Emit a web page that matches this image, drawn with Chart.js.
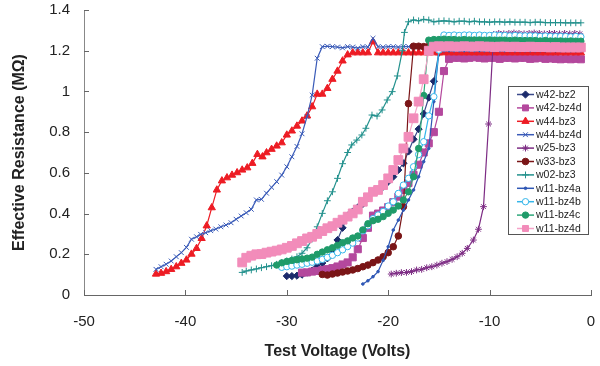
<!DOCTYPE html>
<html lang="en">
<head>
<meta charset="UTF-8">
<title>Effective Resistance vs Test Voltage</title>
<script src="https://cdn.jsdelivr.net/npm/chart.js"></script>
<style>
  html, body { margin: 0; padding: 0; background: #fff; }
  #wrap { width: 600px; height: 366px; }
</style>
</head>
<body>
<div id="wrap"><canvas id="chart" width="600" height="366"></canvas></div>
<script>
// axis ticks
const xTicks = [-50, -40, -30, -20, -10, 0];
const yTicks = [0, 0.2, 0.4, 0.6, 0.8, 1, 1.2, 1.4];

// series names (legend order)
const names = ['w42-bz2', 'w42-bz4d', 'w44-bz3', 'w44-bz4d', 'w25-bz3', 'w33-bz3',
               'w02-bz3', 'w11-bz4a', 'w11-bz4b', 'w11-bz4c', 'w11-bz4d'];

// [voltage, resistance]
const w42bz2 = [[-30,0.093],[-29.5,0.093],[-29,0.095],[-28.5,0.1],[-28,0.11],[-27.5,0.12],[-27,0.139],[-26.5,0.157],
  [-26,0.18],[-25.5,0.22],[-25,0.27],[-24.5,0.33],[-24,0.39],[-23.5,0.41],[-23,0.43],[-22.5,0.447],[-22,0.475],
  [-21.5,0.505],[-21,0.516],[-20.5,0.532],[-20,0.557],[-19.5,0.581],[-19,0.614],[-18.5,0.647],[-18,0.705],
  [-17.5,0.765],[-17,0.815],[-16.5,0.89],[-16,0.97],[-15.5,1.05],[-15,1.19],[-14.5,1.2],[-14,1.2],[-13.5,1.204],
  [-13,1.2],[-12.5,1.2],[-12,1.198],[-11.5,1.2],[-11,1.202],[-10.5,1.2],[-10,1.2],[-9.5,1.198],[-9,1.2],[-8.5,1.2],
  [-8,1.2],[-7.5,1.202],[-7,1.2],[-6.5,1.2],[-6,1.198],[-5.5,1.2],[-5,1.2],[-4.5,1.2],[-4,1.2],[-3.5,1.198],
  [-3,1.2],[-2.5,1.2],[-2,1.2],[-1.5,1.2],[-1,1.2]];

const w42bz4d = [[-28.5,0.11],[-28,0.111],[-27.5,0.115],[-27,0.118],[-26.5,0.123],[-26,0.127],[-25.5,0.132],
  [-25,0.14],[-24.5,0.15],[-24,0.16],[-23.5,0.185],[-23,0.225],[-22.5,0.28],[-22,0.33],[-21.5,0.39],[-21,0.4],
  [-20.5,0.415],[-20,0.432],[-19.5,0.456],[-19,0.483],[-18.5,0.516],[-18,0.55],[-17.5,0.59],[-17,0.64],
  [-16.5,0.7],[-16,0.745],[-15.5,0.8],[-15,0.9],[-14.5,1.1],[-14,1.16],[-13.5,1.165],[-13,1.165],[-12.5,1.162],
  [-12,1.165],[-11.5,1.168],[-11,1.165],[-10.5,1.162],[-10,1.165],[-9.5,1.165],[-9,1.16],[-8.5,1.165],[-8,1.165],
  [-7.5,1.162],[-7,1.165],[-6.5,1.165],[-6,1.16],[-5.5,1.162],[-5,1.165],[-4.5,1.16],[-4,1.162],[-3.5,1.16],
  [-3,1.158],[-2.5,1.16],[-2,1.158],[-1.5,1.16],[-1,1.158]];

const w44bz3 = [[-42.9,0.103],[-42.4,0.107],[-41.9,0.115],[-41.4,0.126],[-40.9,0.139],[-40.4,0.156],[-39.9,0.172],
  [-39.4,0.201],[-38.9,0.229],[-38.4,0.278],[-37.9,0.34],[-37.4,0.429],[-36.9,0.516],[-36.4,0.561],[-35.9,0.576],
  [-35.4,0.589],[-34.9,0.601],[-34.4,0.614],[-33.9,0.625],[-33.4,0.647],[-32.9,0.691],[-32.4,0.679],[-32,0.699],
  [-31.5,0.716],[-31,0.732],[-30.5,0.748],[-30,0.786],[-29.5,0.806],[-29,0.83],[-28.5,0.855],[-28,0.88],
  [-27.5,0.925],[-27,0.987],[-26.5,0.987],[-26,1.015],[-25.5,1.06],[-25,1.1],[-24.5,1.15],[-24,1.18],[-23.5,1.19],
  [-23,1.19],[-22.5,1.19],[-22,1.19],[-21.5,1.244],[-21,1.19],[-20.5,1.19],[-20,1.19],[-19.5,1.19],[-19,1.19],
  [-18.5,1.19],[-18,1.19],[-17.5,1.19],[-17,1.19],[-16.5,1.19],[-16,1.19],[-15.5,1.19],[-15,1.19],[-14.5,1.19],
  [-14,1.19],[-13.5,1.19],[-13,1.19],[-12.5,1.19],[-12,1.19],[-11.5,1.19],[-11,1.19],[-10.5,1.19],[-10,1.19],
  [-9.5,1.19],[-9,1.19],[-8.5,1.19],[-8,1.19],[-7.5,1.19],[-7,1.19],[-6.5,1.19],[-6,1.19],[-5.5,1.19],[-5,1.19],
  [-4.5,1.19],[-4,1.19],[-3.5,1.19],[-3,1.19],[-2.5,1.19],[-2,1.19],[-1.5,1.19],[-1,1.19]];

const w44bz4d = [[-42.9,0.126],[-42.4,0.139],[-41.9,0.151],[-41.4,0.167],[-40.9,0.188],[-40.4,0.208],[-39.9,0.234],
  [-39.4,0.274],[-38.9,0.286],[-38.5,0.298],[-38,0.306],[-37.5,0.316],[-37,0.324],[-36.5,0.335],[-36,0.344],
  [-35.5,0.355],[-35,0.372],[-34.5,0.388],[-34,0.404],[-33.5,0.421],[-33,0.467],[-32.5,0.47],[-32,0.5],
  [-31.5,0.529],[-31,0.557],[-30.5,0.589],[-30,0.63],[-29.5,0.679],[-29,0.73],[-28.5,0.792],[-28,0.876],
  [-27.5,0.982],[-27,1.163],[-26.5,1.22],[-26,1.222],[-25.5,1.22],[-25,1.218],[-24.5,1.214],[-24,1.22],
  [-23.5,1.218],[-23,1.213],[-22.5,1.22],[-22,1.218],[-21.5,1.261],[-21,1.22],[-20.5,1.218],[-20,1.22],
  [-19.5,1.22],[-19,1.218],[-18.5,1.22],[-18,1.22],[-17.5,1.22],[-17,1.22],[-16.5,1.218],[-16,1.22],[-15.5,1.22],
  [-15,1.22],[-14.5,1.22],[-14,1.22],[-13.5,1.22],[-13,1.22],[-12.5,1.22],[-12,1.22],[-11.5,1.22],[-11,1.22],
  [-10.5,1.22],[-10,1.22],[-9.5,1.22],[-9,1.22],[-8.5,1.22],[-8,1.22],[-7.5,1.22],[-7,1.22],[-6.5,1.22],[-6,1.22],
  [-5.5,1.22],[-5,1.22],[-4.5,1.22],[-4,1.22],[-3.5,1.22],[-3,1.22],[-2.5,1.22],[-2,1.22],[-1.5,1.22],[-1,1.22]];

const w25bz3 = [[-19.7,0.103],[-19.2,0.107],[-18.7,0.11],[-18.2,0.111],[-17.7,0.115],[-17.2,0.123],[-16.7,0.126],
  [-16.2,0.134],[-15.7,0.139],[-15.2,0.147],[-14.7,0.156],[-14.2,0.164],[-13.7,0.175],[-13.2,0.188],[-12.7,0.205],
  [-12.2,0.229],[-11.6,0.27],[-11.1,0.323],[-10.6,0.434],[-10.1,0.84],[-9.6,1.28],[-9.1,1.285],[-8.6,1.283],
  [-8.1,1.285],[-7.6,1.287],[-7.1,1.285],[-6.6,1.283],[-6.1,1.285],[-5.6,1.287],[-5.1,1.285],[-4.6,1.283],
  [-4.1,1.285],[-3.6,1.285],[-3.1,1.283],[-2.6,1.285],[-2.1,1.283],[-1.6,1.285],[-1.1,1.283]];

const w33bz3 = [[-26.5,0.101],[-26,0.098],[-25.5,0.103],[-25,0.108],[-24.5,0.113],[-24,0.118],[-23.5,0.123],
  [-23,0.13],[-22.5,0.139],[-22,0.147],[-21.5,0.159],[-21,0.172],[-20.5,0.188],[-20,0.208],[-19.5,0.237],
  [-19,0.29],[-18.5,0.434],[-18,0.94],[-17.5,1.222],[-17,1.222],[-16.5,1.22],[-16,1.222]];

const w02bz3 = [[-34.4,0.111],[-34,0.118],[-33.5,0.123],[-33,0.128],[-32.5,0.134],[-32,0.139],[-31.5,0.144],
  [-31,0.151],[-30.5,0.159],[-30,0.167],[-29.5,0.177],[-29,0.188],[-28.5,0.205],[-28,0.232],[-27.5,0.275],
  [-27,0.335],[-26.5,0.401],[-26,0.463],[-25.5,0.507],[-25,0.573],[-24.5,0.645],[-24,0.7],[-23.6,0.737],
  [-23.1,0.761],[-22.6,0.786],[-22.2,0.819],[-21.6,0.884],[-21.1,0.879],[-20.6,0.909],[-20.1,0.958],[-19.6,0.999],
  [-19.1,1.076],[-18.6,1.2],[-18.4,1.29],[-18,1.342],[-17.5,1.351],[-17,1.347],[-16.5,1.354],[-16,1.351],
  [-15.5,1.342],[-15,1.345],[-14.5,1.347],[-14,1.345],[-13.5,1.342],[-13,1.345],[-12.5,1.345],[-12,1.342],
  [-11.5,1.345],[-11,1.342],[-10.5,1.342],[-10,1.34],[-9.5,1.342],[-9,1.342],[-8.5,1.34],[-8,1.342],[-7.5,1.34],
  [-7,1.34],[-6.5,1.34],[-6,1.338],[-5.5,1.34],[-5,1.34],[-4.5,1.338],[-4,1.338],[-3.5,1.338],[-3,1.338],
  [-2.5,1.337],[-2,1.337],[-1.5,1.337],[-1,1.337]];

const w11bz4a = [[-22.5,0.054],[-22,0.07],[-21.5,0.09],[-21,0.115],[-20.5,0.17],[-20,0.237],[-19.5,0.319],
  [-19,0.368],[-18.5,0.417],[-18,0.467],[-17.5,0.516],[-17,0.581],[-16.5,0.655],[-16,0.72],[-15.5,0.95],
  [-15,1.195],[-14.5,1.2],[-14,1.2],[-13.5,1.2],[-13,1.2],[-12.5,1.2],[-12,1.2],[-11.5,1.2],[-11,1.2],[-10.5,1.2],
  [-10,1.2],[-9.5,1.2],[-9,1.2],[-8.5,1.2],[-8,1.2],[-7.5,1.2],[-7,1.2],[-6.5,1.2],[-6,1.2],[-5.5,1.2],[-5,1.2],
  [-4.5,1.2],[-4,1.2],[-3.5,1.2],[-3,1.2],[-2.5,1.2],[-2,1.2],[-1.5,1.2],[-1,1.2]];

const w11bz4b = [[-30.5,0.136],[-30,0.139],[-29.5,0.142],[-29,0.147],[-28.5,0.151],[-28,0.156],[-27.5,0.161],
  [-27,0.167],[-26.5,0.175],[-26,0.185],[-25.5,0.195],[-25,0.208],[-24.5,0.222],[-24,0.238],[-23.5,0.255],
  [-23,0.28],[-22.5,0.315],[-22,0.34],[-21.5,0.375],[-21,0.393],[-20.5,0.41],[-20,0.437],[-19.5,0.458],
  [-19,0.499],[-18.5,0.54],[-18,0.573],[-17.5,0.63],[-17,0.69],[-16.5,0.753],[-16,0.88],[-15.5,0.974],
  [-15,1.203],[-14.5,1.277],[-14,1.275],[-13.5,1.277],[-13,1.275],[-12.5,1.277],[-12,1.277],[-11.5,1.275],
  [-11,1.277],[-10.5,1.275],[-10,1.275],[-9.5,1.277],[-9,1.275],[-8.5,1.275],[-8,1.273],[-7.5,1.275],[-7,1.273],
  [-6.5,1.273],[-6,1.273],[-5.5,1.273],[-5,1.27],[-4.5,1.272],[-4,1.27],[-3.5,1.27],[-3,1.27],[-2.5,1.27],
  [-2,1.268],[-1.5,1.27],[-1,1.268]];

const w11bz4c = [[-31,0.147],[-30.5,0.158],[-30,0.165],[-29.5,0.17],[-29,0.173],[-28.5,0.177],[-28,0.181],
  [-27.5,0.186],[-27,0.2],[-26.5,0.211],[-26,0.222],[-25.5,0.232],[-25,0.244],[-24.5,0.257],[-24,0.266],
  [-23.5,0.28],[-23,0.29],[-22.5,0.32],[-22,0.35],[-21.5,0.365],[-21,0.372],[-20.5,0.385],[-20,0.401],
  [-19.5,0.417],[-19,0.437],[-18.5,0.467],[-18,0.507],[-17.5,0.581],[-17,0.72],[-16.5,0.98],[-16,1.252],
  [-15.5,1.255],[-15,1.255],[-14.5,1.257],[-14,1.255],[-13.5,1.255],[-13,1.253],[-12.5,1.255],[-12,1.253],
  [-11.5,1.253],[-11,1.253],[-10.5,1.252],[-10,1.253],[-9.5,1.252],[-9,1.252],[-8.5,1.252],[-8,1.25],[-7.5,1.252],
  [-7,1.25],[-6.5,1.25],[-6,1.25],[-5.5,1.25],[-5,1.248],[-4.5,1.25],[-4,1.248],[-3.5,1.248],[-3,1.248],
  [-2.5,1.247],[-2,1.248],[-1.5,1.247],[-1,1.247]];

const w11bz4d = [[-34.4,0.16],[-34,0.183],[-33.5,0.193],[-33,0.2],[-32.5,0.201],[-32,0.208],[-31.5,0.213],
  [-31,0.218],[-30.5,0.224],[-30,0.232],[-29.5,0.241],[-29,0.254],[-28.5,0.265],[-28,0.278],[-27.5,0.286],
  [-27,0.3],[-26.5,0.314],[-26,0.328],[-25.5,0.338],[-25,0.355],[-24.5,0.37],[-24,0.385],[-23.5,0.401],
  [-23,0.42],[-22.5,0.458],[-22,0.48],[-21.5,0.507],[-21,0.516],[-20.5,0.54],[-20,0.573],[-19.5,0.614],
  [-19,0.663],[-18.5,0.72],[-18,0.777],[-17.5,0.868],[-17,0.95],[-16.5,1.06],[-16,1.2],[-15.5,1.22],[-15,1.222],
  [-14.5,1.22],[-14,1.222],[-13.5,1.22],[-13,1.22],[-12.5,1.222],[-12,1.22],[-11.5,1.22],[-11,1.222],[-10.5,1.22],
  [-10,1.22],[-9.5,1.218],[-9,1.22],[-8.5,1.22],[-8,1.218],[-7.5,1.22],[-7,1.218],[-6.5,1.218],[-6,1.22],
  [-5.5,1.218],[-5,1.218],[-4.5,1.218],[-4,1.216],[-3.5,1.218],[-3,1.216],[-2.5,1.216],[-2,1.216],[-1.5,1.216],
  [-1,1.216]];

const seriesData = [w42bz2, w42bz4d, w44bz3, w44bz4d, w25bz3, w33bz3, w02bz3, w11bz4a, w11bz4b, w11bz4c, w11bz4d];

// look of each series: colour, line colour, marker, radius, fill
const looks = [
  { c: '#1b2a6b', l: '#3b4a8b', s: 'rectRot', r: 3.6, f: '#1b2a6b' },
  { c: '#b4489d', l: '#b4489d', s: 'rect', r: 5, f: '#b4489d' },
  { c: '#ed1c24', l: '#ed1c24', s: 'triangle', r: 4.2, f: '#ed1c24' },
  { c: '#3a5bb8', l: '#3a5bb8', s: 'crossRot', r: 3.4, f: '#3a5bb8' },
  { c: '#7d2c84', l: '#7d2c84', s: 'star', r: 3.4, f: '#7d2c84' },
  { c: '#7a1517', l: '#7a1517', s: 'circle', r: 3.3, f: '#7a1517' },
  { c: '#23918d', l: '#23918d', s: 'cross', r: 3.4, f: '#23918d' },
  { c: '#2f57b5', l: '#2f57b5', s: 'circle', r: 1.3, f: '#2f57b5' },
  { c: '#35b6ea', l: '#35b6ea', s: 'circle', r: 3.2, f: '#ffffff' },
  { c: '#1f9b6a', l: '#2fa87a', s: 'circle', r: 3.2, f: '#1f9b6a' },
  { c: '#f28cba', l: '#f5a3c8', s: 'rect', r: 6.2, f: '#f28cba' }
];

const datasets = seriesData.map((d, i) => ({
  label: names[i],
  data: d.map(p => ({ x: p[0], y: p[1] })),
  borderColor: looks[i].l,
  backgroundColor: looks[i].f,
  borderWidth: 1.2,
  pointStyle: looks[i].s,
  pointRadius: looks[i].r,
  pointBorderColor: looks[i].c,
  pointBackgroundColor: looks[i].f,
  pointBorderWidth: 1,
  fill: false,
  tension: 0,
  order: names.length - i   // later series on top, like the original
}));

// small tick marks pointing into the plot
const innerTicks = {
  id: 'innerTicks',
  afterDraw(chart) {
    const ctx = chart.ctx, xs = chart.scales.x, ys = chart.scales.y;
    const a = chart.chartArea;
    ctx.save();
    ctx.strokeStyle = '#666';
    ctx.lineWidth = 1;
    ctx.beginPath();
    xTicks.forEach(v => {
      const px = Math.round(xs.getPixelForValue(v)) + 0.5;
      ctx.moveTo(px, a.bottom); ctx.lineTo(px, a.bottom - 5);
    });
    yTicks.forEach(v => {
      const py = Math.round(ys.getPixelForValue(v)) + 0.5;
      ctx.moveTo(a.left, py); ctx.lineTo(a.left + 5, py);
    });
    ctx.stroke();
    ctx.restore();
  }
};

// boxed legend inside the plot, right side
const boxLegend = {
  id: 'boxLegend',
  afterDraw(chart) {
    const ctx = chart.ctx;
    const bx = 508.5, by = 86.5, bw = 80, bh = 148;
    ctx.save();
    ctx.fillStyle = '#fff';
    ctx.fillRect(bx, by, bw, bh);
    ctx.strokeStyle = '#555';
    ctx.lineWidth = 1;
    ctx.strokeRect(bx, by, bw, bh);
    ctx.font = '10.5px Arial, "Liberation Sans", sans-serif';
    ctx.textBaseline = 'middle';
    const drawPoint = Chart.helpers && Chart.helpers.drawPoint;
    names.forEach((n, i) => {
      const y = 94.5 + i * 13.4;
      const lk = looks[i];
      ctx.strokeStyle = lk.l;
      ctx.lineWidth = 1.5;
      ctx.beginPath(); ctx.moveTo(517, y); ctx.lineTo(534, y); ctx.stroke();
      ctx.fillStyle = lk.f;
      ctx.strokeStyle = lk.c;
      ctx.lineWidth = 1;
      if (drawPoint) {
        drawPoint(ctx, { pointStyle: lk.s, radius: Math.min(lk.r, 4.2), rotation: 0, borderWidth: 1 }, 525.5, y);
      } else {
        ctx.beginPath(); ctx.arc(525.5, y, 3, 0, Math.PI * 2); ctx.fill(); ctx.stroke();
      }
      ctx.fillStyle = '#222';
      ctx.fillText(n, 536, y + 0.5);
    });
    ctx.restore();
  }
};

const axisFont = { family: 'Arial, "Liberation Sans", sans-serif', size: 15 };
const titleFont = { family: 'Arial, "Liberation Sans", sans-serif', size: 16, weight: 'bold' };

new Chart(document.getElementById('chart'), {
  type: 'line',
  data: { datasets },
  options: {
    responsive: false,
    animation: false,
    events: [],
    layout: { padding: { top: 10, right: 9, left: 0, bottom: 0 } },
    plugins: { legend: { display: false }, tooltip: { enabled: false } },
    scales: {
      x: {
        type: 'linear',
        min: -50, max: 0,
        afterBuildTicks: s => { s.ticks = xTicks.map(v => ({ value: v })); },
        afterFit: s => { s.height = 71; s.paddingLeft = 0; s.paddingRight = 0; },
        ticks: { font: axisFont, color: '#222', padding: 18, maxRotation: 0, callback: v => String(v) },
        grid: { display: false, drawTicks: false },
        border: { display: true, color: '#666', width: 1 },
        title: { display: true, text: 'Test Voltage (Volts)', font: titleFont, color: '#222', padding: { top: 0, bottom: 5 } }
      },
      y: {
        type: 'linear',
        min: 0, max: 1.4,
        afterBuildTicks: s => { s.ticks = yTicks.map(v => ({ value: v })); },
        afterFit: s => { s.width = 84; s.paddingTop = 0; s.paddingBottom = 0; },
        ticks: { font: axisFont, color: '#222', padding: 14, callback: v => String(Math.round(v * 10) / 10) },
        grid: { display: false, drawTicks: false },
        border: { display: true, color: '#888', width: 1 },
        title: { display: true, text: 'Effective Resistance (MΩ)', font: titleFont, color: '#222', padding: { top: 10, bottom: 0 } }
      }
    }
  },
  plugins: [innerTicks, boxLegend]
});
</script>
</body>
</html>
